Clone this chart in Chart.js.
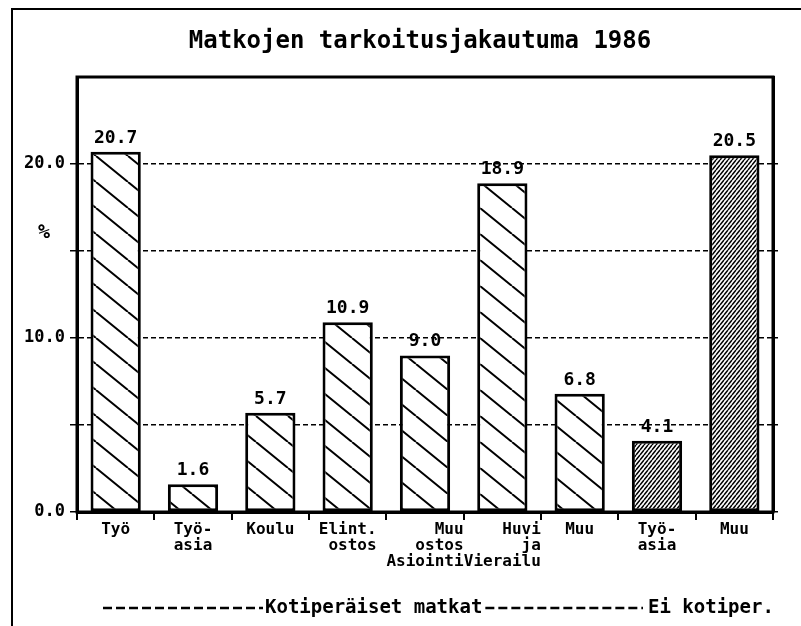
<!DOCTYPE html>
<html lang="fi">
<head>
<meta charset="UTF-8">
<title>Matkojen tarkoitusjakautuma 1986</title>
<script src="https://cdn.jsdelivr.net/npm/chart.js"></script>
<style>
  html, body { margin: 0; padding: 0; background: #fff; }
  .wrap { position: relative; width: 801px; height: 626px; }
</style>
</head>
<body>
<div class="wrap"><canvas id="chart"></canvas></div>
<script>
// data
const title = 'Matkojen tarkoitusjakautuma 1986';
const categories = [
  ['Työ'], ['Työ-', 'asia'], ['Koulu'], ['Elint.', 'ostos'],
  ['Muu', 'ostos', 'Asiointi'], ['Huvi', 'ja', 'Vierailu'], ['Muu'],
  ['Työ-', 'asia'], ['Muu']
];
const values = [20.7, 1.6, 5.7, 10.9, 9.0, 18.9, 6.8, 4.1, 20.5];
const groups = ['koti', 'koti', 'koti', 'koti', 'koti', 'koti', 'koti', 'ei', 'ei'];
const groupLabels = ['Kotiperäiset matkat', 'Ei kotiper.'];
const yTickLabels = [0, 10, 20];

const MONO = '"DejaVu Sans Mono", monospace';
Chart.defaults.font.family = MONO;
Chart.defaults.font.weight = 'bold';
Chart.defaults.color = '#000';

// lines of a label right-aligned inside the block (mono font)
function padLines(lines) {
  const n = Math.max(...lines.map(l => l.length));
  return lines.map(l => l.padStart(n));
}

function hatch(w, h, lw, dir) {
  const c = document.createElement('canvas');
  c.width = w; c.height = h;
  const g = c.getContext('2d');
  g.fillStyle = '#fff';
  g.fillRect(0, 0, w, h);
  g.strokeStyle = '#000';
  g.lineWidth = lw;
  g.beginPath();
  for (let k = -w; k <= w; k += w) {
    if (dir === 'down') { g.moveTo(k, 0); g.lineTo(k + w, h); }
    else { g.moveTo(k, h); g.lineTo(k + w, 0); }
  }
  g.stroke();
  return g.createPattern(c, 'repeat');
}

const sparse = hatch(32, 26, 2, 'down');
const dense = hatch(4, 5, 1.5, 'up');

const decorations = {
  id: 'decorations',
  afterDatasetsDraw(chart) {
    const { ctx } = chart;
    ctx.save();
    ctx.fillStyle = '#000';
    ctx.font = 'bold 18px ' + MONO;
    ctx.textAlign = 'center';
    ctx.textBaseline = 'alphabetic';
    chart.getDatasetMeta(0).data.forEach((bar, i) => {
      ctx.fillText(values[i].toFixed(1), bar.x, bar.y - 9);
    });
    ctx.restore();
  },
  afterDraw(chart) {
    const { ctx, chartArea: a } = chart;
    ctx.save();
    ctx.strokeStyle = '#000';
    ctx.fillStyle = '#000';
    // plot box
    ctx.lineWidth = 3;
    ctx.strokeRect(a.left, a.top, a.right - a.left, a.bottom - a.top);
    // outer frame
    ctx.lineWidth = 2;
    ctx.beginPath();
    ctx.moveTo(12, 626); ctx.lineTo(12, 9); ctx.lineTo(801, 9);
    ctx.stroke();
    // title
    ctx.font = 'bold 24px ' + MONO;
    ctx.textAlign = 'center';
    ctx.textBaseline = 'alphabetic';
    ctx.fillText(title, 420, 48);
    // y unit
    ctx.font = 'bold 20px ' + MONO;
    ctx.textBaseline = 'middle';
    ctx.fillText('%', 44, 233);
    // group row
    const y = 608;
    ctx.font = 'bold 19px ' + MONO;
    ctx.textAlign = 'left';
    const w1 = ctx.measureText(groupLabels[0]).width;
    ctx.fillText(groupLabels[0], 265, y);
    ctx.fillText(groupLabels[1], 648, y);
    ctx.lineWidth = 2.5;
    ctx.setLineDash([9, 4]);
    ctx.beginPath();
    ctx.moveTo(103, y); ctx.lineTo(263, y);
    ctx.moveTo(265 + w1 + 3, y); ctx.lineTo(643, y);
    ctx.stroke();
    ctx.restore();
  }
};

const gridOn = c => (c.tick.value > 0 && c.tick.value < 25) ? '#000' : 'rgba(0,0,0,0)';
const tickOn = c => c.tick.value < 25 ? '#000' : 'rgba(0,0,0,0)';

new Chart(document.getElementById('chart'), {
  type: 'bar',
  data: {
    labels: categories.map(padLines),
    datasets: [{
      data: values,
      backgroundColor: groups.map(g => g === 'koti' ? sparse : dense),
      borderColor: '#000',
      borderWidth: 3,
      borderSkipped: false,
      barPercentage: 0.65,
      categoryPercentage: 1
    }]
  },
  options: {
    responsive: true,
    maintainAspectRatio: false,
    animation: false,
    layout: { padding: { top: 77, right: 23, left: 0, bottom: 0 } },
    plugins: { legend: { display: false }, tooltip: { enabled: false } },
    scales: {
      x: {
        grid: { offset: true, drawOnChartArea: false, tickLength: 8, color: '#000', lineWidth: 2 },
        border: { color: '#000', width: 3 },
        ticks: {
          color: '#000', autoSkip: false, maxRotation: 0, padding: 2,
          font: { size: 16, weight: 'bold', lineHeight: 1 }
        },
        afterFit: s => { s.height = 114; }
      },
      y: {
        min: 0, max: 25,
        ticks: {
          stepSize: 5, padding: 5, color: '#000',
          font: { size: 17, weight: 'bold' },
          callback: v => yTickLabels.includes(v) ? v.toFixed(1) : ''
        },
        grid: { color: gridOn, tickColor: tickOn, lineWidth: 1.5, tickLength: 7 },
        border: { color: '#000', width: 3, dash: [5, 3] },
        afterFit: s => { s.width = 77; }
      },
      y2: {
        position: 'right',
        min: 0, max: 25,
        ticks: { display: false, stepSize: 5 },
        grid: { drawOnChartArea: false, tickColor: tickOn, lineWidth: 1.5, tickLength: 5 },
        border: { color: '#000', width: 3 },
        afterFit: s => { s.width = 5; }
      }
    }
  },
  plugins: [decorations]
});
</script>
</body>
</html>
